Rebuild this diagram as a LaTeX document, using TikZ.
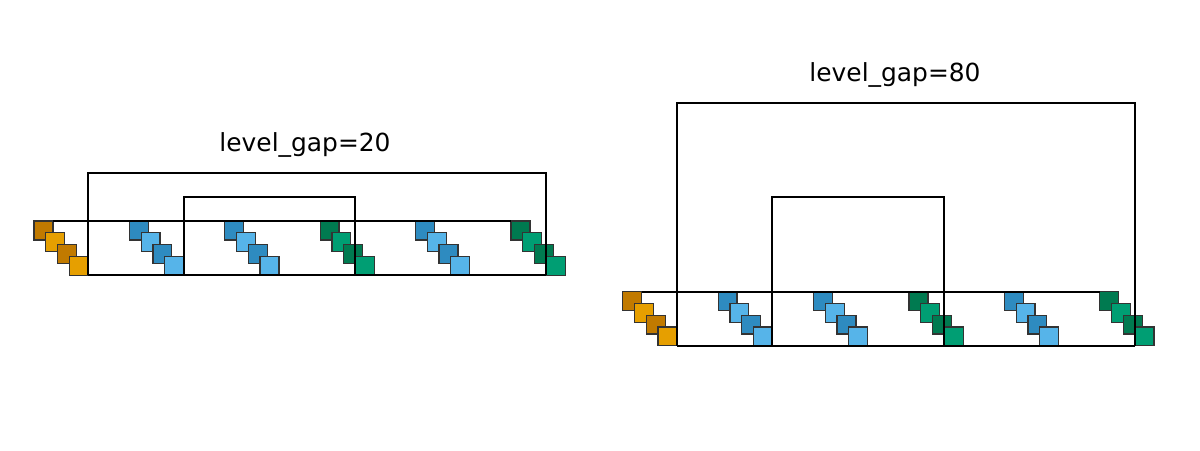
\documentclass[tikz,border=0pt]{standalone}
\usepackage{fontspec}
\setmainfont{DejaVu Sans}
\definecolor{oD}{RGB}{193,122,0}
\definecolor{oL}{RGB}{230,159,0}
\definecolor{bD}{RGB}{46,139,192}
\definecolor{bL}{RGB}{86,180,233}
\definecolor{gD}{RGB}{0,122,80}
\definecolor{gL}{RGB}{0,158,115}
\begin{document}
\begin{tikzpicture}[x=0.0066667in,y=-0.0066667in,
  sq/.style={draw=black!80,line width=0.6pt,minimum size=9.1pt,inner sep=0pt,outer sep=0pt,anchor=north west},
  link/.style={line width=1pt,black},
  lbl/.style={font=\fontsize{12}{14}\selectfont,anchor=base}]
\useasboundingbox (0,0) rectangle (1200,450);
\foreach \p/\dx/\dy in {L/0/0,R/588.8/70.7}{
  \foreach \g/\c in {0/o,1/b,2/b,3/g,4/b,5/g}{
    \foreach \i/\s in {0/D,1/L,2/D,3/L}{
      \node[sq,fill=\c\s] (\p g\g s\i) at ({34+\dx+95.4*\g+11.75*\i},{221+\dy+11.75*\i}) {};
    }
  }
}
\foreach \p in {L,R}{
  \draw[link] (\p g0s0.north east) -- (\p g5s0.north west);
  \draw[link] (\p g0s3.south east) -- (\p g5s3.south west);
}
\draw[link] (Lg0s3.south east) -- ++(0,-102) -| (Lg5s3.south west);
\draw[link] (Lg1s3.south east) -- ++(0,-78) -| (Lg3s3.south west);
\draw[link] (Rg0s3.south east) -- ++(0,-242.4) -| (Rg5s3.south west);
\draw[link] (Rg1s3.south east) -- ++(0,-148.4) -| (Rg3s3.south west);
\node[lbl] (t1) at (305,151.5) {level\_gap=20};
\node[lbl] (t2) at (895,81.5) {level\_gap=80};
\end{tikzpicture}
\end{document}
